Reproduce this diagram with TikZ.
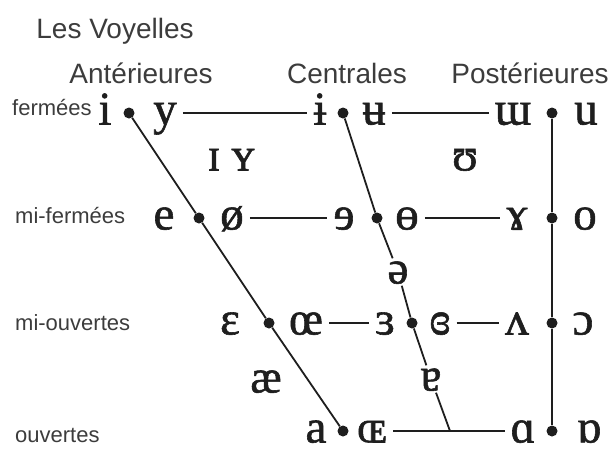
\documentclass[tikz,border=0pt]{standalone}
\usepackage{fontspec}
\setmainfont{Liberation Serif}
\newfontfamily\labfont{Liberation Sans}
\newfontfamily\ipafont[FakeBold=1.2]{Liberation Serif}
\usetikzlibrary{positioning}
\definecolor{ink}{HTML}{1E1E1E}
\definecolor{labgray}{HTML}{3C3C3C}

\begin{document}
\begin{tikzpicture}[x=1pt,y=-1pt,
  ipa/.style={inner xsep=6pt,inner ysep=2pt,text height=23pt,text depth=0pt,text=ink,font=\ipafont\fontsize{47}{50}\selectfont},
  vdot/.style={circle,fill=ink,inner sep=0pt,minimum size=11pt},
  lab/.style={text=labgray,anchor=base west,inner sep=0pt,font=\labfont\fontsize{22}{24}\selectfont},
  colhead/.style={text=labgray,anchor=base,inner sep=0pt,font=\labfont\fontsize{28}{30}\selectfont},
  slant/.style={ink,line width=1.8pt},
  rung/.style={ink,line width=1.1pt}]
\useasboundingbox (0,0) rectangle (613,448);

\node[colhead] (title) at (115,38) {Les Voyelles};
\node[colhead] (hant) at (141,83) {Antérieures};
\node[colhead] (hcen) at (347,83) {Centrales};
\node[colhead] (hpos) at (530,83) {Postérieures};

\node[lab] (lferm) at (12,115) {fermées};
\node[lab] (lmiferm) at (15,223) {mi-fermées};
\node[lab] (lmiouv) at (15,330) {mi-ouvertes};
\node[lab] (louv) at (15,442) {ouvertes};

\node[vdot] (f1) at (129,113) {};
\node[vdot] (f2) at (199,218) {};
\node[vdot] (f3) at (269,323) {};
\node[vdot] (f4) at (343,431) {};
\node[vdot] (c1) at (343,113) {};
\node[vdot] (c2) at (377,218) {};
\node[vdot] (c3) at (412,323) {};
\node[vdot] (b1) at (552,113) {};
\node[vdot] (b2) at (552,218) {};
\node[vdot] (b3) at (552,323) {};
\node[vdot] (b4) at (552,431) {};

\node[ipa] (vi) at (105,113) {i};
\node[ipa] (vy) at (165,113) {y};
\node[ipa] (vbari) at (320,113) {ɨ};
\node[ipa] (vbaru) at (374,113) {ʉ};
\node[ipa] (vturnm) at (513,113) {ɯ};
\node[ipa] (vu) at (586,113) {u};

\node[ipa] (vsmalli) at (214,159) {ɪ};
\node[ipa] (vsmally) at (243,159) {ʏ};
\node[ipa] (vupsilon) at (465,159) {ʊ};

\node[ipa] (ve) at (164,218) {e};
\node[ipa] (voslash) at (232,218) {ø};
\node[ipa] (vreve) at (344,218) {ɘ};
\node[ipa] (vbaro) at (407,218) {ɵ};
\node[ipa] (vramshorn) at (517,218) {ɤ};
\node[ipa] (vo) at (585,218) {o};

\node[ipa] (vschwa) at (398,272) {ə};

\node[ipa] (veps) at (230,323) {ɛ};
\node[ipa] (voe) at (306,323) {œ};
\node[ipa] (vreveps) at (385,323) {ɜ};
\node[ipa] (vcloseps) at (440,323) {ɞ};
\node[ipa] (vturnv) at (517,323) {ʌ};
\node[ipa] (vopeno) at (583,323) {ɔ};

\node[ipa] (vae) at (266,381) {æ};
\node[ipa] (vturna) at (431,379) {ɐ};

\node[ipa] (va) at (316,431) {a};
\node[ipa] (vOE) at (372,431) {ɶ};
\node[ipa] (vscripta) at (523,431) {ɑ};
\node[ipa] (vturnscripta) at (589,431) {ɒ};

\coordinate (cbot) at (450,431);

\draw[slant] (f1) -- (f2) -- (f3) -- (f4);
\draw[slant] (b1) -- (b2) -- (b3) -- (b4);
\draw[slant] (c1) -- (c2) -- (vschwa);
\draw[slant] (vschwa) -- (c3) -- (vturna);
\draw[slant] (vturna) -- (cbot);

\draw[rung] (vy) -- (vbari);
\draw[rung] (vbaru) -- (vturnm);
\draw[rung] (voslash) -- (vreve);
\draw[rung] (vbaro) -- (vramshorn);
\draw[rung] (voe) -- (vreveps);
\draw[rung] (vcloseps) -- (vturnv);
\draw[rung] (vOE) -- (vscripta);
\end{tikzpicture}
\end{document}
